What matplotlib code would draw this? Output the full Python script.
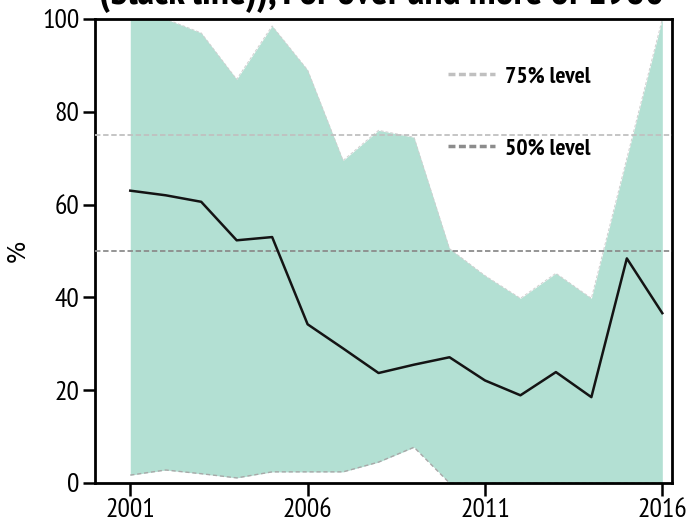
import matplotlib
matplotlib.use("Agg")
import matplotlib.pyplot as plt
from matplotlib.lines import Line2D

years = list(range(2001, 2017))
median = [63.0, 62.0, 60.6, 52.3, 53.0, 34.2, 29.0, 23.7, 25.5, 27.1, 22.1, 18.9, 23.9, 18.5, 48.4, 36.6]
upper = [100, 100, 97, 87, 98.5, 89, 69.5, 76, 74.5, 50.5, 44.7, 39.8, 45.2, 39.8, 70, 100]
lower = [1.7, 2.8, 2.0, 1.1, 2.4, 2.4, 2.4, 4.5, 7.7, 0, 0, 0, 0, 0, 0, 0]
levels = [75, 50]
level_labels = ["75% level", "50% level"]
xticks = [2001, 2006, 2011, 2016]
yticks = [0, 20, 40, 60, 80, 100]
title = "(black line)), For over and more of 1980"

narrow = ['Liberation Sans Narrow', 'Arial Narrow', 'PT Sans Narrow', 'Archivo Narrow', 'DejaVu Sans']
plt.rcParams['font.family'] = narrow

fig = plt.figure(figsize=(6.87, 5.27), dpi=100)
ax = fig.add_axes([0.138, 0.0835, 0.84, 0.8805])

ax.fill_between(years, lower, upper, color='#b3e0d3', lw=0, zorder=1)
ax.plot(years, upper, color='#cfcfcf', lw=0.7, ls=(0, (3, 2)), zorder=2)
ax.plot(years, lower, color='#a8a8a8', lw=1.0, ls=(0, (3, 2)), zorder=2)

lc = ['#c0c0c0', '#8c8c8c']
handles = []
for lv, lab, c in zip(levels, level_labels, lc):
    ax.axhline(lv, color=c, lw=1.3, ls=(0, (3, 1.5)), zorder=3)
    handles.append(Line2D([], [], color=c, lw=2.5, ls=(0, (2, 1))))

ax.plot(years, median, color='#141414', lw=1.8, zorder=4)

leg = ax.legend(handles, level_labels, loc='upper left', bbox_to_anchor=(0.575, 0.945),
                frameon=False, fontsize=17, handlelength=2.0, handletextpad=0.4,
                labelspacing=2.15)
for t in leg.get_texts():
    t.set_fontweight('bold')

ax.set_xlim(2000, 2016.27)
ax.set_ylim(0, 100)
ax.set_xticks(xticks)
ax.set_yticks(yticks)
ax.tick_params(axis='both', direction='out', length=9, width=1.8, labelsize=20, pad=2)
for s in ax.spines.values():
    s.set_linewidth(2)
    s.set_color('black')

ax.set_ylabel('%', fontsize=17, family='DejaVu Sans')
ax.yaxis.set_label_coords(-0.112, 0.5)

fig.text(0.555, 1.0 - 4/527, title, ha='center', va='baseline',
         fontsize=29, fontweight='bold')

fig.savefig('out.png', dpi=100)
